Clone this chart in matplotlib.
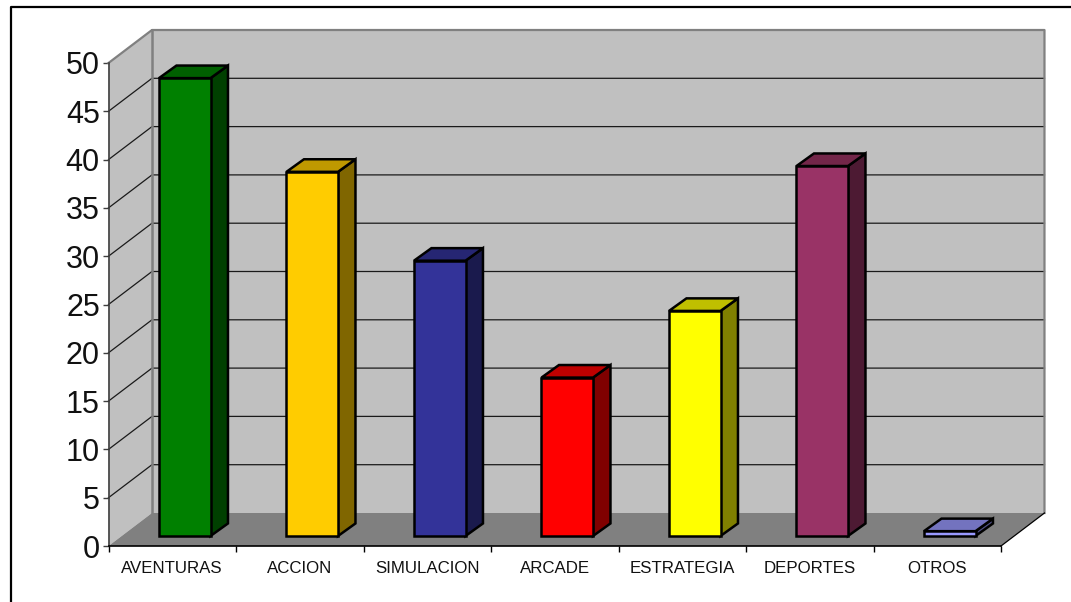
import matplotlib
matplotlib.use("Agg")
import matplotlib.pyplot as plt
from matplotlib.patches import Polygon, Rectangle
from matplotlib.lines import Line2D

plt.rcParams["font.family"] = ["Liberation Sans", "DejaVu Sans"]

categorias = ["AVENTURAS", "ACCION", "SIMULACION", "ARCADE", "ESTRATEGIA", "DEPORTES", "OTROS"]
valores = [47.4, 37.7, 28.5, 16.4, 23.3, 38.3, 0.5]
ticks_y = [0, 5, 10, 15, 20, 25, 30, 35, 40, 45, 50]

cor_frente = ["#008000", "#FFCC00", "#333399", "#FF0000", "#FFFF00", "#993366", "#9999FF"]
cor_topo = ["#006000", "#BF9900", "#262673", "#BF0000", "#BFBF00", "#732649", "#7373BF"]
cor_lado = ["#004000", "#806600", "#1A1A4D", "#800000", "#808000", "#4D1A33", "#4D4D80"]

W, H = 1071, 602
# chart depth and bar geometry, in category / value units
DX, DY = 0.341, 3.416
BAR_DX, BAR_DY = 0.137, 1.3
BAR_W = 0.404
BAR_OFF = 0.098
BASE_Y = 1.035


def desenhar_caixa(ax):
    n = len(categorias)
    top = ticks_y[-1]

    ax.add_patch(Polygon([(0, 0), (DX, DY), (DX, top + DY), (0, top)],
                         fc="#C0C0C0", ec="none", zorder=1, clip_on=False))
    ax.add_patch(Polygon([(DX, DY), (n + DX, DY), (n + DX, top + DY), (DX, top + DY)],
                         fc="#C0C0C0", ec="none", zorder=1, clip_on=False))
    ax.add_patch(Polygon([(0, 0), (n, 0), (n + DX, DY), (DX, DY)],
                         fc="#808080", ec="none", zorder=2, clip_on=False))

    for t in ticks_y[1:-1]:
        ax.plot([0, DX, n + DX], [t, t + DY, t + DY], color="#1A1A1A", lw=0.9,
                zorder=3, clip_on=False, solid_joinstyle="miter")

    # gray wall edges
    ax.plot([0, DX, n + DX, n + DX], [top, top + DY, top + DY, DY], color="#808080",
            lw=1.6, zorder=3, clip_on=False)
    ax.plot([DX, DX], [DY, top + DY], color="#808080", lw=1.8, zorder=3, clip_on=False)
    ax.plot([n, n + DX], [0, DY], color="black", lw=0.9, zorder=3, clip_on=False)


def desenhar_barras(ax):
    for i, v in enumerate(valores):
        x0 = i + 0.5 + BAR_OFF - BAR_W / 2
        x1 = x0 + BAR_W
        y0 = BASE_Y
        y1 = BASE_Y + v
        estilo = dict(ec="black", lw=1.8, zorder=5, clip_on=False, joinstyle="miter")
        ax.add_patch(Polygon([(x1, y0), (x1 + BAR_DX, y0 + BAR_DY),
                              (x1 + BAR_DX, y1 + BAR_DY), (x1, y1)],
                             fc=cor_lado[i], **estilo))
        ax.add_patch(Polygon([(x0, y1), (x1, y1), (x1 + BAR_DX, y1 + BAR_DY),
                              (x0 + BAR_DX, y1 + BAR_DY)],
                             fc=cor_topo[i], **estilo))
        ax.add_patch(Rectangle((x0, y0), BAR_W, v, fc=cor_frente[i], **estilo))


def main():
    fig = plt.figure(figsize=(W / 100, H / 100), dpi=100, facecolor="white")

    # outer frame of the picture, cut off on the right and bottom
    fig.add_artist(Line2D([10.5 / W, 10.5 / W, 1], [0, 1 - 7 / H, 1 - 7 / H],
                          color="black", lw=1.6, transform=fig.transFigure))

    ax = fig.add_axes([108.5 / W, 1 - 546 / H, 892.5 / W, 483 / H])
    ax.set_xlim(0, len(categorias))
    ax.set_ylim(0, ticks_y[-1])
    ax.patch.set_alpha(0)

    for lado in ["top", "right"]:
        ax.spines[lado].set_visible(False)
    ax.spines["left"].set_color("#404040")
    ax.spines["left"].set_linewidth(1.2)
    ax.spines["bottom"].set_color("black")
    ax.spines["bottom"].set_linewidth(1.2)
    ax.spines["left"].set_zorder(6)
    ax.spines["bottom"].set_zorder(6)

    ax.set_yticks(ticks_y)
    ax.tick_params(axis="y", labelsize=22, length=4.5, width=1, pad=1.8, color="#404040",
                   labelcolor="#111111")

    ax.set_xticks(range(len(categorias) + 1))
    ax.set_xticklabels([])
    ax.tick_params(axis="x", which="major", length=4.5, width=1, color="black")
    ax.set_xticks([i + 0.5 for i in range(len(categorias))], minor=True)
    ax.set_xticklabels(categorias, minor=True, fontsize=12.2, color="#111111")
    ax.tick_params(axis="x", which="minor", length=0, pad=10.5)

    desenhar_caixa(ax)
    desenhar_barras(ax)

    fig.savefig("out.png", dpi=100)


if __name__ == "__main__":
    main()
